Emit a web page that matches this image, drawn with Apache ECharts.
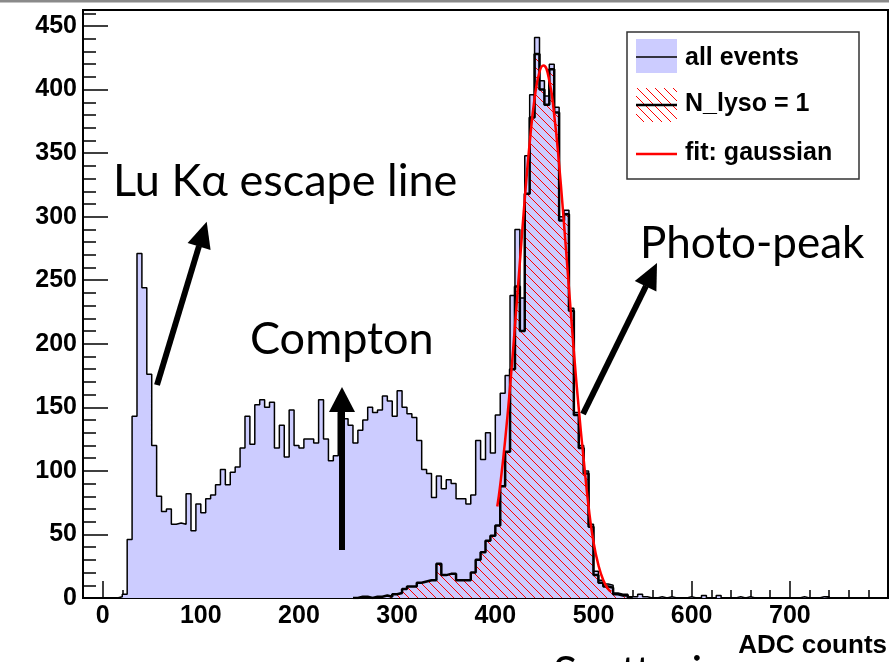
<!DOCTYPE html>
<html>
<head>
<meta charset="utf-8">
<title>ADC counts</title>
<script src="https://cdn.jsdelivr.net/npm/echarts@6.0.0/dist/echarts.min.js"></script>
<style>
  html, body { margin: 0; padding: 0; background: #fff; }
  #main { width: 889px; height: 662px; }
</style>
</head>
<body>
<div id="main"></div>
<script>
// histogram data, 5 ADC counts per bin
var binWidth = 5;

// all events, first bin starts at 15
var allStart = 15;
var allEvents = [
  1, 3, 46, 143, 271, 244, 176, 120, 80, 68,
  70, 58, 59, 58, 82, 53, 74, 67, 78, 81,
  89, 101, 89, 99, 103, 118, 143, 121, 152, 156,
  150, 154, 118, 136, 111, 148, 120, 118, 125, 125,
  122, 156, 125, 108, 112, 146, 141, 136, 122, 132,
  140, 150, 146, 148, 159, 155, 143, 163, 150, 145,
  142, 124, 101, 98, 79, 96, 86, 93, 90, 78,
  78, 74, 81, 124, 109, 130, 114, 144, 161, 175,
  238, 290, 236, 348, 396, 441, 407, 395, 420, 386,
  300, 305, 228, 146, 120, 100, 58, 21, 14, 11,
  10, 4, 3, 3, 1, 1, 3, 1, 0, 0,
  1, 0, 1, 0, 0, 0, 1, 0, 0, 2,
  0, 0, 2, 0, 0, 0, 1, 0, 1, 0,
  0, 0, 0, 0, 0, 0, 0, 0, 0, 1,
  0, 0, 0, 1, 1
];

// N_lyso = 1, first bin starts at 255
var lysoStart = 255;
var nLyso = [
  0, 1, 1, 0, 1, 1, 2, 1, 3, 4,
  7, 9, 9, 12, 13, 14, 14, 27, 18, 19,
  19, 14, 14, 14, 20, 30, 36, 45, 49, 57,
  88, 115, 180, 245, 210, 318, 378, 428, 400, 388,
  416, 382, 297, 302, 226, 144, 118, 98, 56, 18,
  12, 9, 8, 3, 2, 2, 0
];

// gaussian fit
var fitX = [402, 405, 410, 415, 420, 425, 430, 435, 440, 445, 449, 455, 460,
            465, 470, 475, 480, 485, 490, 495, 500, 505, 510, 515, 518];
var fitY = [72, 89, 124, 166, 214, 264, 314, 358, 393, 414, 419, 407, 380,
            341, 294, 244, 194, 149, 109, 72, 44, 26, 14, 7, 5];

// axis ticks
var xLabels = [0, 100, 200, 300, 400, 500, 600, 700];
var xMinor = [20, 40, 60, 80, 120, 140, 160, 180, 220, 240, 260, 280, 320, 340, 360, 380,
              420, 440, 460, 480, 520, 540, 560, 580, 620, 640, 660, 680, 720, 740, 760, 780];
var yLabels = [0, 50, 100, 150, 200, 250, 300, 350, 400, 450];
var yMinor = [10, 20, 30, 40, 60, 70, 80, 90, 110, 120, 130, 140, 160, 170, 180, 190,
              210, 220, 230, 240, 260, 270, 280, 290, 310, 320, 330, 340, 360, 370, 380, 390,
              410, 420, 430, 440, 460];

function stepData(start, vals) {
  var d = [[start, 0]];
  for (var i = 0; i < vals.length; i++) {
    d.push([start + i * binWidth, vals[i]]);
  }
  d.push([start + vals.length * binWidth, 0]);
  return d;
}

function hatchCanvas() {
  var c = document.createElement('canvas');
  c.width = 9;
  c.height = 9;
  var ctx = c.getContext('2d');
  ctx.strokeStyle = '#ff0000';
  ctx.lineWidth = 1;
  ctx.beginPath();
  ctx.moveTo(-1, -1);
  ctx.lineTo(10, 10);
  ctx.stroke();
  return c;
}

var hatch = { image: hatchCanvas(), repeat: 'repeat' };
var fitData = fitX.map(function (x, i) { return [x, fitY[i]]; });

var labelFont = { fontFamily: 'Liberation Sans', fontWeight: 'bold', fontSize: 25, color: '#000' };
var noteFont = '45px Lato, "Noto Sans", sans-serif';
var legFont = 'bold 25px "Liberation Sans", Arial, sans-serif';

function txt(s, x, y, font, align) {
  return {
    type: 'text', z: 100,
    style: { text: s, x: x, y: y, font: font, fill: '#000',
             align: align || 'left', verticalAlign: 'middle',
             textAlign: align || 'left', textVerticalAlign: 'middle' }
  };
}
function seg(x1, y1, x2, y2, color, w) {
  return { type: 'line', z: 100, shape: { x1: x1, y1: y1, x2: x2, y2: y2 },
           style: { stroke: color, lineWidth: w } };
}
function head(pts) {
  return { type: 'polygon', z: 100, shape: { points: pts }, style: { fill: '#000' } };
}

var myChart = echarts.init(document.getElementById('main'));
var option = {
  animation: false,
  backgroundColor: '#fff',
  grid: { left: 83, right: 1, top: 10, bottom: 64, show: true,
          borderColor: '#000', borderWidth: 2, backgroundColor: 'transparent' },
  xAxis: [{
    type: 'value', min: -20, max: 800,
    splitLine: { show: false },
    axisLine: { onZero: false, lineStyle: { color: '#000', width: 2 } },
    axisTick: { inside: true, length: 17, customValues: xLabels, lineStyle: { color: '#000', width: 1.5 } },
    axisLabel: Object.assign({ customValues: xLabels, margin: 6 }, labelFont)
  }, {
    type: 'value', min: -20, max: 800, position: 'bottom',
    splitLine: { show: false },
    axisLine: { show: false, onZero: false },
    axisTick: { inside: true, length: 8, customValues: xMinor, lineStyle: { color: '#000', width: 1.5 } },
    axisLabel: { show: false }
  }],
  yAxis: [{
    type: 'value', min: 0, max: 462.6, interval: 50,
    splitLine: { show: false },
    axisLine: { onZero: false, lineStyle: { color: '#000', width: 2 } },
    axisTick: { inside: true, length: 25, customValues: yLabels, lineStyle: { color: '#000', width: 1.5 } },
    axisLabel: Object.assign({ customValues: yLabels, margin: 6 }, labelFont)
  }, {
    type: 'value', min: 0, max: 462.6, position: 'left',
    splitLine: { show: false },
    axisLine: { show: false, onZero: false },
    axisTick: { inside: true, length: 13, customValues: yMinor, lineStyle: { color: '#000', width: 1.5 } },
    axisLabel: { show: false }
  }],
  series: [{
    name: 'all events', type: 'line', step: 'end', symbol: 'none',
    data: stepData(allStart, allEvents),
    lineStyle: { color: '#000', width: 1.5 },
    areaStyle: { color: '#ccccff', opacity: 1 }
  }, {
    name: 'N_lyso = 1', type: 'line', step: 'end', symbol: 'none',
    data: stepData(lysoStart, nLyso),
    lineStyle: { color: '#000', width: 2.5 },
    areaStyle: { color: hatch, opacity: 1 }
  }, {
    name: 'fit: gaussian', type: 'line', smooth: true, symbol: 'none',
    data: fitData,
    lineStyle: { color: '#ff0000', width: 2.5 }
  }],
  graphic: [
    { type: 'rect', z: 100, shape: { x: 0, y: 0, width: 889, height: 2.5 }, style: { fill: '#8a8a8a' } },

    // legend
    { type: 'rect', z: 100, shape: { x: 627, y: 32, width: 232, height: 147 },
      style: { fill: '#fff', stroke: '#333', lineWidth: 1.5 } },
    { type: 'rect', z: 100, shape: { x: 636, y: 39, width: 41, height: 34 }, style: { fill: '#ccccff' } },
    seg(636, 57, 677, 57, '#000', 1.5),
    { type: 'rect', z: 100, shape: { x: 636, y: 88, width: 41, height: 34 }, style: { fill: hatch } },
    seg(636, 105, 677, 105, '#000', 2.5),
    seg(636, 154, 677, 154, '#ff0000', 2.5),
    txt('all events', 685, 58, legFont),
    txt('N_lyso = 1', 685, 104, legFont),
    txt('fit: gaussian', 685, 153, legFont),

    // annotations
    txt('Lu K\u03b1 escape line', 113, 181, noteFont),
    txt('Compton', 250, 339, noteFont),
    txt('Photo-peak', 640, 244, '44px Lato, "Noto Sans", sans-serif'),
    txt('Scattering', 553, 673, noteFont),
    txt('ADC counts', 887, 646, 'bold 26px "Liberation Sans", Arial, sans-serif', 'right'),

    seg(157, 385, 199, 246, '#000', 6),
    head([[206.7, 221.7], [210.6, 250.1], [187.6, 243.1]]),
    seg(342, 550, 342, 410, '#000', 6),
    head([[342, 387], [355, 412], [329, 412]]),
    seg(583, 414, 646, 286, '#000', 6),
    head([[657, 263], [656.4, 291.6], [634.8, 281]])
  ]
};
myChart.setOption(option);
window.addEventListener("resize", function () {
  myChart.resize();
});
</script>
</body>
</html>
